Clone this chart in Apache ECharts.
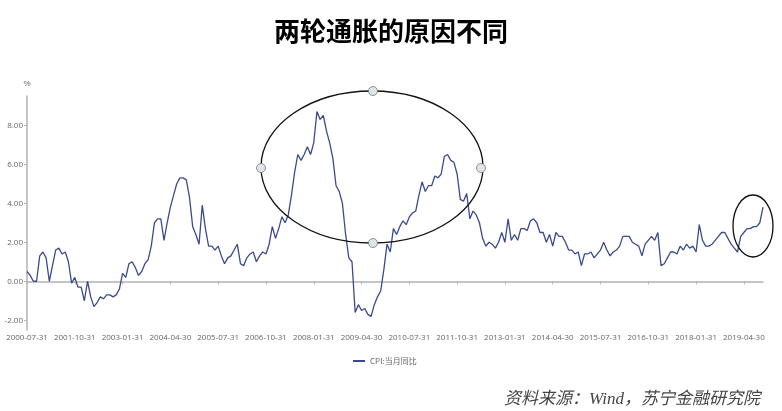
<!DOCTYPE html>
<html>
<head>
<meta charset="utf-8">
<script src="https://cdn.jsdelivr.net/npm/echarts@6/dist/echarts.min.js"></script>
<style>
html,body{margin:0;padding:0;background:#fff;}
#chart{width:782px;height:411px;}
</style>
</head>
<body>
<div id="chart"></div>
<script>
// Monthly period: 2000-07 .. 2019-10 (month-end dates)
const startYear = 2000, startMonth = 7, endYear = 2019, endMonth = 10;
const seriesName = 'CPI:当月同比';
const yTickValues = [-2, 0, 2, 4, 6, 8];

// CPI YoY (%)
const cpi2000 = [0.5, 0.3, 0.0, 0.0, 1.3, 1.5];
const cpi2001 = [1.2, 0.0, 0.8, 1.6, 1.7, 1.4, 1.5, 1.0, -0.1, 0.2, -0.3, -0.3];
const cpi2002 = [-1.0, 0.0, -0.8, -1.3, -1.1, -0.8, -0.9, -0.7, -0.7, -0.8, -0.7, -0.4];
const cpi2003 = [0.4, 0.2, 0.9, 1.0, 0.7, 0.3, 0.5, 0.9, 1.1, 1.8, 3.0, 3.2];
const cpi2004 = [3.2, 2.1, 3.0, 3.8, 4.4, 5.0, 5.3, 5.3, 5.2, 4.3, 2.8, 2.4];
const cpi2005 = [1.9, 3.9, 2.7, 1.8, 1.8, 1.6, 1.8, 1.3, 0.9, 1.2, 1.3, 1.6];
const cpi2006 = [1.9, 0.9, 0.8, 1.2, 1.4, 1.5, 1.0, 1.3, 1.5, 1.4, 1.9, 2.8];
const cpi2007 = [2.2, 2.7, 3.3, 3.0, 3.4, 4.4, 5.6, 6.5, 6.2, 6.5, 6.9, 6.5];
const cpi2008 = [7.1, 8.7, 8.3, 8.5, 7.7, 7.1, 6.3, 4.9, 4.6, 4.0, 2.4, 1.2];
const cpi2009 = [1.0, -1.6, -1.2, -1.5, -1.4, -1.7, -1.8, -1.2, -0.8, -0.5, 0.6, 1.9];
const cpi2010 = [1.5, 2.7, 2.4, 2.8, 3.1, 2.9, 3.3, 3.5, 3.6, 4.4, 5.1, 4.6];
const cpi2011 = [4.9, 4.9, 5.4, 5.3, 5.5, 6.4, 6.5, 6.2, 6.1, 5.5, 4.2, 4.1];
const cpi2012 = [4.5, 3.2, 3.6, 3.4, 3.0, 2.2, 1.8, 2.0, 1.9, 1.7, 2.0, 2.5];
const cpi2013 = [2.0, 3.2, 2.1, 2.4, 2.1, 2.7, 2.7, 2.6, 3.1, 3.2, 3.0, 2.5];
const cpi2014 = [2.5, 2.0, 2.4, 1.8, 2.5, 2.3, 2.3, 2.0, 1.6, 1.6, 1.4, 1.5];
const cpi2015 = [0.8, 1.4, 1.4, 1.5, 1.2, 1.4, 1.6, 2.0, 1.6, 1.3, 1.5, 1.6];
const cpi2016 = [1.8, 2.3, 2.3, 2.3, 2.0, 1.9, 1.8, 1.3, 1.9, 2.1, 2.3, 2.1];
const cpi2017 = [2.5, 0.8, 0.9, 1.2, 1.5, 1.5, 1.4, 1.8, 1.6, 1.9, 1.7, 1.8];
const cpi2018 = [1.5, 2.9, 2.1, 1.8, 1.8, 1.9, 2.1, 2.3, 2.5, 2.5, 2.2, 1.9];
const cpi2019 = [1.7, 1.5, 2.3, 2.5, 2.7, 2.7, 2.8, 2.8, 3.0, 3.8];

const cpiValues = [].concat(cpi2000, cpi2001, cpi2002, cpi2003, cpi2004, cpi2005,
  cpi2006, cpi2007, cpi2008, cpi2009, cpi2010, cpi2011, cpi2012, cpi2013,
  cpi2014, cpi2015, cpi2016, cpi2017, cpi2018, cpi2019);

const dates = [];
for (let y = startYear, m = startMonth; y < endYear || (y === endYear && m <= endMonth); ) {
  const d = new Date(Date.UTC(y, m, 0)).getUTCDate();
  dates.push(y + '-' + String(m).padStart(2, '0') + '-' + String(d).padStart(2, '0'));
  m++; if (m > 12) { m = 1; y++; }
}

const lineColor = '#3b4a8e';
const axisColor = '#b3b3b3';
const labelColor = '#666';

const chart = echarts.init(document.getElementById('chart'), null, {renderer: 'canvas'});
chart.setOption({
  animation: false,
  backgroundColor: '#fff',
  title: {
    text: '两轮通胀的原因不同',
    left: 'center',
    top: 13,
    textStyle: {fontFamily: 'Noto Sans CJK SC', fontSize: 26, fontWeight: 'bold', color: '#000'}
  },
  legend: {
    data: [{name: seriesName, icon: 'rect'}],
    left: 348,
    top: 352,
    itemWidth: 12,
    itemHeight: 2,
    itemGap: 4,
    textStyle: {fontSize: 8, color: labelColor, fontFamily: 'Noto Sans CJK SC'}
  },
  grid: {left: 27, right: 19, top: 96, bottom: 81, containLabel: false},
  xAxis: [
    {
      type: 'category',
      data: dates,
      boundaryGap: false,
      position: 'bottom',
      axisLine: {onZero: true, lineStyle: {color: axisColor, width: 1.5}},
      axisTick: {interval: 14, length: 3, lineStyle: {color: axisColor}},
      axisLabel: {show: false},
      splitLine: {show: false}
    },
    {
      type: 'category',
      data: dates,
      boundaryGap: false,
      position: 'bottom',
      axisLine: {show: false, onZero: false},
      axisTick: {show: false},
      axisLabel: {interval: 14, margin: 4, fontSize: 8, color: labelColor, fontFamily: 'Open Sans'},
      splitLine: {show: false}
    }
  ],
  yAxis: {
    type: 'value',
    min: -2.5,
    max: 9.5,
    interval: 0.5,
    name: '%',
    nameGap: 8,
    nameTextStyle: {fontSize: 8, color: labelColor, align: 'center'},
    axisLine: {show: true, lineStyle: {color: axisColor, width: 1.5}},
    axisTick: {show: true, length: 3, customValues: yTickValues, lineStyle: {color: axisColor}},
    axisLabel: {
      customValues: yTickValues,
      margin: 4,
      fontSize: 8,
      color: labelColor,
      fontFamily: 'Open Sans',
      formatter: v => v.toFixed(2)
    },
    splitLine: {show: false}
  },
  series: [{
    name: seriesName,
    type: 'line',
    xAxisIndex: 0,
    data: cpiValues,
    showSymbol: false,
    symbol: 'none',
    lineStyle: {color: lineColor, width: 1.3},
    itemStyle: {color: lineColor}
  }],
  graphic: [
    {type: 'ellipse', shape: {cx: 372, cy: 167, rx: 111, ry: 76},
     style: {fill: 'none', stroke: '#111', lineWidth: 1.3}, z: 10},
    {type: 'circle', shape: {cx: 373, cy: 91, r: 4.5}, style: {fill: '#dfe3ea', stroke: '#777', lineWidth: 0.8}, z: 11},
    {type: 'circle', shape: {cx: 373, cy: 243, r: 4.5}, style: {fill: '#dfe3ea', stroke: '#777', lineWidth: 0.8}, z: 11},
    {type: 'circle', shape: {cx: 261, cy: 168, r: 4.5}, style: {fill: '#dfe3ea', stroke: '#777', lineWidth: 0.8}, z: 11},
    {type: 'circle', shape: {cx: 481, cy: 168, r: 4.5}, style: {fill: '#dfe3ea', stroke: '#777', lineWidth: 0.8}, z: 11},
    {type: 'ellipse', shape: {cx: 753, cy: 226, rx: 20, ry: 31},
     style: {fill: 'none', stroke: '#111', lineWidth: 1.3}, z: 10},
    {type: 'text', right: 22, top: 391,
     style: {text: '资料来源：Wind，苏宁金融研究院', fill: '#444',
             font: 'italic 17px "Liberation Serif", "Noto Sans CJK SC"'}, z: 10}
  ]
});
</script>
</body>
</html>
